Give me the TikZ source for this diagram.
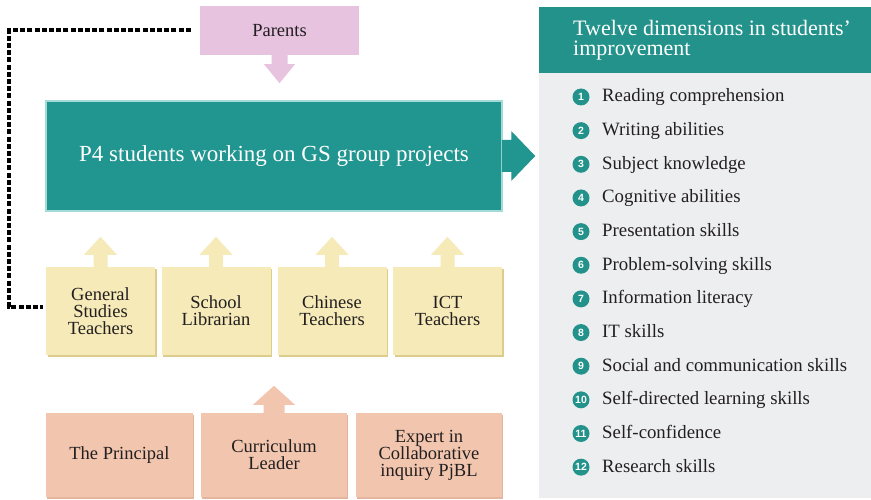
\documentclass[tikz,border=0pt]{standalone}
\usepackage{fontspec}
\setmainfont{Liberation Serif}
\newfontfamily\numfont{Liberation Sans}
\usetikzlibrary{calc,shadows}
\definecolor{pinkc}{HTML}{E7C3E0}
\definecolor{tealc}{HTML}{21958F}
\definecolor{tealbd}{HTML}{A3DBD7}
\definecolor{hdrc}{HTML}{23928B}
\definecolor{panelc}{HTML}{EDEEF0}
\definecolor{yelc}{HTML}{F5EAB8}
\definecolor{yeld}{HTML}{DCCD8C}
\definecolor{salc}{HTML}{F2C6AE}
\definecolor{sald}{HTML}{E4B59C}
\definecolor{txtc}{HTML}{231F20}
\begin{document}
\begin{tikzpicture}[x=1pt,y=-1pt,
  every node/.style={inner sep=0pt, text=txtc},
  lbl/.style={font=\fontsize{18.5}{17}\selectfont, align=center},
  parbox/.style={fill=pinkc, minimum width=159pt, minimum height=49pt, lbl},
  mainbox/.style={fill=tealc, draw=tealbd, line width=2.5pt, minimum width=456pt, minimum height=110pt, text=white, font=\fontsize{23}{26}\selectfont},
  yelbox/.style={fill=yelc, minimum width=109pt, minimum height=88pt, lbl, drop shadow={shadow xshift=1.5pt, shadow yshift=-2pt, fill=yeld, opacity=1}},
  salbox/.style={fill=salc, minimum height=84pt, lbl, drop shadow={shadow xshift=1pt, shadow yshift=-1.5pt, fill=sald, opacity=1}},
  numc/.style={circle, fill=hdrc, minimum size=17pt, text=white, font=\numfont\bfseries\fontsize{10.5}{10.5}\selectfont},
  itemtxt/.style={anchor=base west, font=\fontsize{18.8}{20}\selectfont},
  dotline/.style={line width=4pt, dash pattern=on 5pt off 2.2pt, draw=black}
]
\useasboundingbox (0,0) rectangle (871,500);
\fill[white] (0,0) rectangle (871,500);

% right panel
\fill[panelc] (539,73) rectangle (871,498);
\fill[hdrc] (539,7) rectangle (871,73);
\node[anchor=north west, align=left, text=white, font=\fontsize{22}{20}\selectfont] (title) at (573,20) {Twelve dimensions in students’\\improvement};

\foreach \i/\t in {1/Reading comprehension, 2/Writing abilities, 3/Subject knowledge, 4/Cognitive abilities, 5/Presentation skills, 6/Problem-solving skills, 7/Information literacy, 8/IT skills, 9/Social and communication skills, 10/Self-directed learning skills, 11/Self-confidence, 12/Research skills}{
  \node[numc] (n\i) at (581,{97+33.65*(\i-1)}) {\i};
  \node[itemtxt] (t\i) at (602,{102+33.65*(\i-1)}) {\t};
}

% boxes
\node[parbox] (par) at (279.5,30.5) {Parents};
\node[mainbox] (main) at (274,156) {P4 students working on GS group projects};

\node[yelbox] (gst) at (100.5,311) {General\\Studies\\Teachers};
\node[yelbox] (lib) at (216,311) {School\\Librarian};
\node[yelbox] (chi) at (332,311) {Chinese\\Teachers};
\node[yelbox] (ict) at (447.5,311) {ICT\\Teachers};

\node[salbox, minimum width=147pt] (prin) at (119.5,455) {The Principal};
\node[salbox, minimum width=146pt] (cur) at (274,455) {Curriculum\\Leader};
\node[salbox, minimum width=146pt] (exp) at (429,455) {Expert in\\Collaborative\\inquiry PjBL};

% block arrows
\fill[pinkc] ($(par.south)+(-8,-1)$) -- ($(par.south)+(-8,9)$) -- ($(par.south)+(-15.5,9)$) -- ($(par.south)+(0,28)$) -- ($(par.south)+(15.5,9)$) -- ($(par.south)+(8,9)$) -- ($(par.south)+(8,-1)$) -- cycle;

\fill[tealc] ($(main.east)+(-1.5,-16)$) -- ($(main.east)+(8,-16)$) -- ($(main.east)+(8,-25)$) -- ($(main.east)+(32,0)$) -- ($(main.east)+(8,25)$) -- ($(main.east)+(8,16)$) -- ($(main.east)+(-1.5,16)$) -- cycle;

\foreach \b in {gst,lib,chi,ict}{
  \fill[yelc] ($(\b.north)+(-7,1)$) -- ($(\b.north)+(-7,-12)$) -- ($(\b.north)+(-16.5,-12)$) -- ($(\b.north)+(0,-30)$) -- ($(\b.north)+(16.5,-12)$) -- ($(\b.north)+(7,-12)$) -- ($(\b.north)+(7,1)$) -- cycle;
}

\fill[salc] ($(cur.north)+(-10.5,1)$) -- ($(cur.north)+(-10.5,-8)$) -- ($(cur.north)+(-21,-8)$) -- ($(cur.north)+(0,-27)$) -- ($(cur.north)+(21,-8)$) -- ($(cur.north)+(10.5,-8)$) -- ($(cur.north)+(10.5,1)$) -- cycle;

% dotted connector
\coordinate (dl) at (9,30.5);
\draw[dotline] ($(par.west)+(-9,0)$) -- (dl) |- ($(gst.west)+(-3,-4)$);
\end{tikzpicture}
\end{document}
